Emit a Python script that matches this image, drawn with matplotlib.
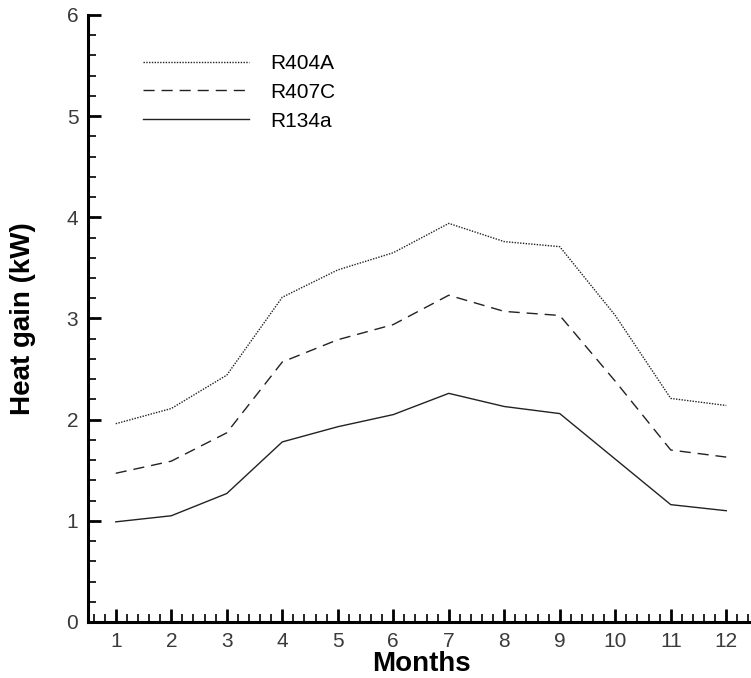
import matplotlib
matplotlib.use("Agg")
import matplotlib.pyplot as plt
from matplotlib.ticker import MultipleLocator

plt.rcParams['font.family'] = ['Liberation Sans', 'DejaVu Sans']

months = [1, 2, 3, 4, 5, 6, 7, 8, 9, 10, 11, 12]
r404a = [1.96, 2.11, 2.44, 3.21, 3.48, 3.65, 3.94, 3.76, 3.71, 3.03, 2.21, 2.14]
r407c = [1.47, 1.59, 1.87, 2.57, 2.79, 2.94, 3.23, 3.07, 3.03, 2.38, 1.70, 1.63]
r134a = [0.99, 1.05, 1.27, 1.78, 1.93, 2.05, 2.26, 2.13, 2.06, 1.61, 1.16, 1.10]

fig = plt.figure(figsize=(7.51, 6.78), dpi=100)
ax = fig.add_axes([0.1172, 0.0826, 0.8868, 0.8953])

line_col = '#222222'
ax.plot(months, r404a, color=line_col, lw=1.0, linestyle=(0, (1, 1)), label='R404A')
ax.plot(months, r407c, color=line_col, lw=1.0, linestyle=(0, (8, 5)), label='R407C')
ax.plot(months, r134a, color=line_col, lw=1.0, linestyle='-', label='R134a')

ax.set_xlim(0.5, 12.5)
ax.set_ylim(0, 6)
ax.xaxis.set_major_locator(MultipleLocator(1))
ax.xaxis.set_minor_locator(MultipleLocator(0.2))
ax.yaxis.set_major_locator(MultipleLocator(1))
ax.yaxis.set_minor_locator(MultipleLocator(0.2))

for side in ['top', 'right']:
    ax.spines[side].set_visible(False)
for side in ['left', 'bottom']:
    ax.spines[side].set_linewidth(2.2)

ax.tick_params(which='major', direction='in', length=9.5, width=2, labelsize=15,
               labelcolor='#3a3a3a', pad=7)
ax.tick_params(which='minor', direction='in', length=5.5, width=1.2)

ax.set_xlabel('Months', fontsize=20, fontweight='bold', labelpad=0)
ax.set_ylabel('Heat gain (kW)', fontsize=20, fontweight='bold', labelpad=22)

leg = ax.legend(loc='upper left', bbox_to_anchor=(0.1904, 0.9204), bbox_transform=fig.transFigure,
                frameon=False, fontsize=15, handlelength=5.1, handletextpad=1.0,
                labelspacing=0.47, borderpad=0, borderaxespad=0)
for t in leg.get_texts():
    t.set_color('black')

fig.savefig('out.png', dpi=100)
